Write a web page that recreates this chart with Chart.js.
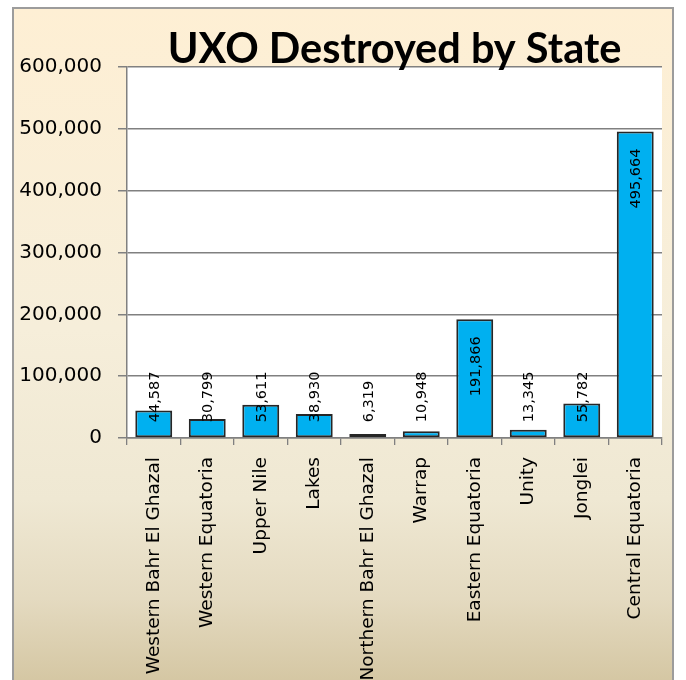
<!DOCTYPE html>
<html>
<head>
<meta charset="utf-8">
<script src="https://cdn.jsdelivr.net/npm/chart.js@4.4.1/dist/chart.umd.min.js"></script>
<style>
html, body { margin: 0; padding: 0; width: 686px; height: 680px; overflow: hidden; background: #ffffff; }
canvas { display: block; }
</style>
</head>
<body>
<canvas id="c" width="686" height="720"></canvas>
<script>
const categories = ["Western Bahr El Ghazal", "Western Equatoria", "Upper Nile", "Lakes",
  "Northern Bahr El Ghazal", "Warrap", "Eastern Equatoria", "Unity", "Jonglei", "Central Equatoria"];
const uxoDestroyed = [44587, 30799, 53611, 38930, 6319, 10948, 191866, 13345, 55782, 495664];
const yTickValues = [0, 100000, 200000, 300000, 400000, 500000, 600000];
const chartTitle = "UXO Destroyed by State";

const fmt = v => v.toLocaleString('en-US');

const panelPlugin = {
  id: 'panel',
  beforeDraw(chart) {
    const ctx = chart.ctx;
    const W = chart.width, H = chart.height;
    ctx.save();
    ctx.fillStyle = '#ffffff';
    ctx.fillRect(0, 0, W, H);
    const g = ctx.createLinearGradient(0, 8, 0, 720);
    g.addColorStop(0.0, '#FEEFD4');
    g.addColorStop(0.45, '#F6EEDA');
    g.addColorStop(0.69, '#EFE8D3');
    g.addColorStop(0.83, '#E4DAC0');
    g.addColorStop(0.95, '#D4C6A2');
    g.addColorStop(1.0, '#D0C29C');
    ctx.fillStyle = g;
    ctx.fillRect(13, 8, 660, H);
    ctx.strokeStyle = '#9C9C9C';
    ctx.lineWidth = 2;
    ctx.strokeRect(13, 8, 660, H + 10);
    const a = chart.chartArea;
    ctx.fillStyle = '#ffffff';
    ctx.fillRect(a.left, a.top, a.right - a.left, a.bottom - a.top);
    ctx.restore();
  }
};

const labelPlugin = {
  id: 'barLabels',
  afterDatasetsDraw(chart) {
    const ctx = chart.ctx;
    const meta = chart.getDatasetMeta(0);
    ctx.save();
    ctx.font = '14.5px "DejaVu Sans"';
    ctx.fillStyle = '#000000';
    ctx.textAlign = 'left';
    ctx.textBaseline = 'middle';
    meta.data.forEach((bar, i) => {
      const txt = fmt(uxoDestroyed[i]);
      const w = ctx.measureText(txt).width;
      let top = bar.y + 17;
      const limit = bar.base - 15;
      if (top + w > limit) top = limit - w;
      ctx.save();
      ctx.translate(bar.x + 1, top + w);
      ctx.rotate(-Math.PI / 2);
      ctx.fillText(txt, 0, 0);
      ctx.restore();
    });
    ctx.restore();
  }
};

new Chart(document.getElementById('c'), {
  type: 'bar',
  data: {
    labels: categories,
    datasets: [{
      label: 'UXO Destroyed',
      data: uxoDestroyed,
      backgroundColor: '#00B0F0',
      borderColor: '#262626',
      borderWidth: 2,
      borderSkipped: false,
      barPercentage: 0.69,
      categoryPercentage: 1.0
    }]
  },
  options: {
    responsive: false,
    animation: false,
    devicePixelRatio: 1,
    layout: { padding: { left: 0, right: 24, top: 8, bottom: 0 } },
    plugins: {
      legend: { display: false },
      tooltip: { enabled: false },
      title: {
        display: true,
        text: chartTitle,
        fullSize: false,
        color: '#000000',
        font: { family: 'Lato', weight: 'bold', size: 41.5, lineHeight: 1.2 },
        padding: { top: 17, bottom: -7.8 }
      }
    },
    scales: {
      x: {
        afterFit(scale) { scale.height = 282; },
        grid: { drawOnChartArea: false, drawTicks: true, tickLength: 7, color: '#808080', lineWidth: 1.3 },
        border: { display: true, color: '#808080', width: 1.5 },
        ticks: {
          autoSkip: false, minRotation: 90, maxRotation: 90, padding: 12,
          color: '#000000', font: { family: 'DejaVu Sans', size: 18.5 }
        }
      },
      y: {
        min: 0, max: 600000,
        afterFit(scale) { scale.width = 127; },
        afterBuildTicks(scale) { scale.ticks = yTickValues.map(v => ({ value: v })); },
        grid: { color: '#808080', lineWidth: 1.5, tickLength: 9 },
        border: { display: true, color: '#808080', width: 1.5 },
        ticks: {
          padding: 16, color: '#000000',
          font: { family: 'DejaVu Sans', size: 20 },
          callback: v => fmt(v)
        }
      }
    }
  },
  plugins: [panelPlugin, labelPlugin]
});
</script>
</body>
</html>
